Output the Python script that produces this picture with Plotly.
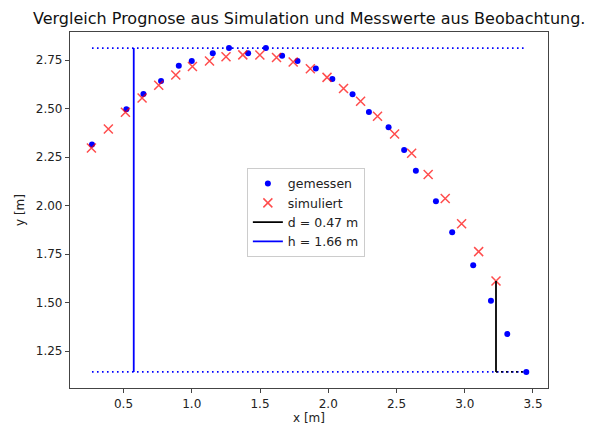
import plotly.graph_objects as go

# measured (gemessen)
x_meas = [0.269, 0.521, 0.646, 0.775, 0.905, 1.000, 1.154, 1.273, 1.413, 1.543,
          1.662, 1.775, 1.909, 2.030, 2.178, 2.298, 2.442, 2.556, 2.642, 2.789,
          2.908, 3.062, 3.192, 3.312, 3.451]
y_meas = [2.315, 2.497, 2.576, 2.642, 2.721, 2.746, 2.785, 2.812, 2.785, 2.812,
          2.772, 2.745, 2.707, 2.653, 2.574, 2.483, 2.404, 2.287, 2.180, 2.022,
          1.863, 1.693, 1.510, 1.338, 1.143]

# simulated (simuliert)
x_sim = [0.265, 0.389, 0.514, 0.636, 0.758, 0.883, 1.005, 1.130, 1.251, 1.374,
         1.499, 1.621, 1.743, 1.869, 1.991, 2.112, 2.237, 2.361, 2.486, 2.611,
         2.732, 2.857, 2.977, 3.102, 3.229]
y_sim = [2.297, 2.395, 2.481, 2.555, 2.621, 2.673, 2.717, 2.746, 2.767, 2.777,
         2.776, 2.764, 2.740, 2.706, 2.661, 2.604, 2.538, 2.461, 2.369, 2.270,
         2.160, 2.037, 1.907, 1.763, 1.612]

y_top = 2.812
y_bottom = 1.143
x_h = 0.575
x_d = 3.229
x_end = 3.451

title = "Vergleich Prognose aus Simulation und Messwerte aus Beobachtung."
label_d = "d = 0.47 m"
label_h = "h = 1.66 m"

dotted = "1.6px,3.4px"

fig = go.Figure()

# dotted reference lines
fig.add_trace(go.Scatter(x=[x_meas[0], x_end], y=[y_top, y_top], mode="lines",
                         line=dict(color="#0000ff", width=1.6, dash=dotted),
                         showlegend=False, hoverinfo="skip"))
fig.add_trace(go.Scatter(x=[x_meas[0], x_end], y=[y_bottom, y_bottom], mode="lines",
                         line=dict(color="#0000ff", width=1.6, dash=dotted),
                         showlegend=False, hoverinfo="skip"))
fig.add_trace(go.Scatter(x=[x_d, x_end], y=[y_bottom, y_bottom], mode="lines",
                         line=dict(color="#000000", width=1.6, dash=dotted),
                         showlegend=False, hoverinfo="skip"))

fig.add_trace(go.Scatter(x=x_meas, y=y_meas, mode="markers", name="gemessen",
                         marker=dict(color="#0000ff", size=6, symbol="circle")))
fig.add_trace(go.Scatter(x=x_sim, y=y_sim, mode="markers", name="simuliert",
                         marker=dict(color="rgba(255,0,0,0.7)", size=9, symbol="x-thin-open",
                                     line=dict(color="rgba(255,0,0,0.7)", width=1.5))))
fig.add_trace(go.Scatter(x=[x_d, x_d], y=[y_bottom, y_sim[-1]], mode="lines", name=label_d,
                         line=dict(color="#000000", width=1.8)))
fig.add_trace(go.Scatter(x=[x_h, x_h], y=[y_bottom, y_top], mode="lines", name=label_h,
                         line=dict(color="#0000ff", width=1.8)))

axis_common = dict(showline=True, mirror=True, linecolor="#444444", linewidth=1.2,
                   ticks="outside", ticklen=4, tickwidth=1, tickcolor="#444444",
                   showgrid=False, zeroline=False,
                   tickfont=dict(family="DejaVu Sans", size=12, color="#222222"))

fig.update_layout(
    width=593, height=429,
    margin=dict(l=70, r=45, t=32, b=41, autoexpand=False),
    paper_bgcolor="white", plot_bgcolor="white",
    font=dict(family="DejaVu Sans", size=12, color="#222222"),
    xaxis=dict(range=[0.108, 3.61], tickvals=[0.5, 1.0, 1.5, 2.0, 2.5, 3.0, 3.5],
               ticktext=["0.5", "1.0", "1.5", "2.0", "2.5", "3.0", "3.5"],
               title=dict(text="x [m]", standoff=4, font=dict(size=12)), **axis_common),
    yaxis=dict(range=[1.060, 2.895], tickvals=[1.25, 1.5, 1.75, 2.0, 2.25, 2.5, 2.75],
               ticktext=["1.25", "1.50", "1.75", "2.00", "2.25", "2.50", "2.75"],
               title=dict(text="y [m]", standoff=8, font=dict(size=12)), **axis_common),
    legend=dict(x=0.37, y=0.618, xanchor="left", yanchor="top",
                bgcolor="white", bordercolor="#cccccc", borderwidth=1,
                font=dict(family="DejaVu Sans", size=12.5, color="#222222")),
    annotations=[dict(text=title, xref="paper", yref="paper", x=0.5, y=1.0,
                      xanchor="center", yanchor="bottom", yshift=2, showarrow=False,
                      font=dict(family="DejaVu Sans", size=16, color="#111111"))],
)

fig.write_html("out.html", config={"displayModeBar": False},
               post_script="document.body.style.margin='0';")
